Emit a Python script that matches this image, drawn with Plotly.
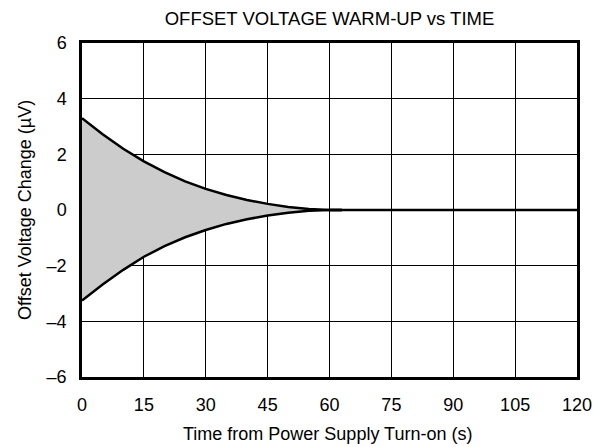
import plotly.graph_objects as go

t = [0, 5, 10, 15, 20, 25, 30, 35, 40, 45, 50, 55, 60, 63]
upper = [3.3, 2.72, 2.2, 1.75, 1.36, 1.03, 0.76, 0.54, 0.36, 0.22, 0.11, 0.04, 0.0, 0.0]
lower = [-3.25, -2.68, -2.15, -1.68, -1.3, -0.98, -0.72, -0.5, -0.33, -0.2, -0.1, -0.03, 0.0, 0.0]
t_flat = [60, 120]
v_flat = [0, 0]

xticks = [0, 15, 30, 45, 60, 75, 90, 105, 120]
yticks = [-6, -4, -2, 0, 2, 4, 6]
yticklabels = ["–6", "–4", "–2", "0", "2", "4", "6"]

FAM = "Liberation Sans, Arial, sans-serif"
FS = 18
F = dict(family=FAM, size=FS, color="black")

fig = go.Figure()
fig.add_trace(go.Scatter(x=t, y=lower, mode="lines", line=dict(color="black", width=2.5),
                         hoverinfo="skip", showlegend=False))
fig.add_trace(go.Scatter(x=t, y=upper, mode="lines", line=dict(color="black", width=2.5),
                         fill="tonexty", fillcolor="#cccccc", hoverinfo="skip", showlegend=False))
fig.add_trace(go.Scatter(x=t_flat, y=v_flat, mode="lines", line=dict(color="black", width=2.5),
                         hoverinfo="skip", showlegend=False))

fig.update_layout(
    width=599, height=447,
    margin=dict(l=82, r=22, t=43, b=70),
    paper_bgcolor="white", plot_bgcolor="white",
    font=F,
    title=dict(text="OFFSET VOLTAGE WARM-UP vs TIME", x=329.5 / 599, xref="container", xanchor="center",
               y=1 - 19 / 447, yref="container", yanchor="middle",
               font=dict(family=FAM, size=18.5, color="black")),
    xaxis=dict(range=[0, 120], tickvals=xticks, ticktext=[str(v) for v in xticks],
               showgrid=True, gridcolor="black", gridwidth=1, zeroline=False,
               showline=True, linecolor="black", linewidth=2.5, mirror=True,
               ticks="", ticklabelstandoff=10, automargin=False, tickfont=F),
    yaxis=dict(range=[-6, 6], tickvals=yticks, ticktext=yticklabels,
               showgrid=True, gridcolor="black", gridwidth=1, zeroline=False,
               showline=True, linecolor="black", linewidth=2.5, mirror=True,
               ticks="", ticklabelstandoff=9, automargin=False, tickfont=F),
    annotations=[
        dict(text="Time from Power Supply Turn-on (s)", xref="paper", yref="paper",
             x=0.5, y=0, xanchor="center", yanchor="middle", yshift=-57, xshift=-2,
             showarrow=False, font=F),
        dict(text="Offset Voltage Change (µV)", xref="paper", yref="paper",
             x=0, y=0.5, xanchor="center", yanchor="middle", xshift=-57, textangle=-90,
             showarrow=False, font=F),
    ],
)
fig.write_html("out.html", config={"displayModeBar": False},
               post_script="document.body.style.margin='0';document.body.style.overflow='hidden';")
